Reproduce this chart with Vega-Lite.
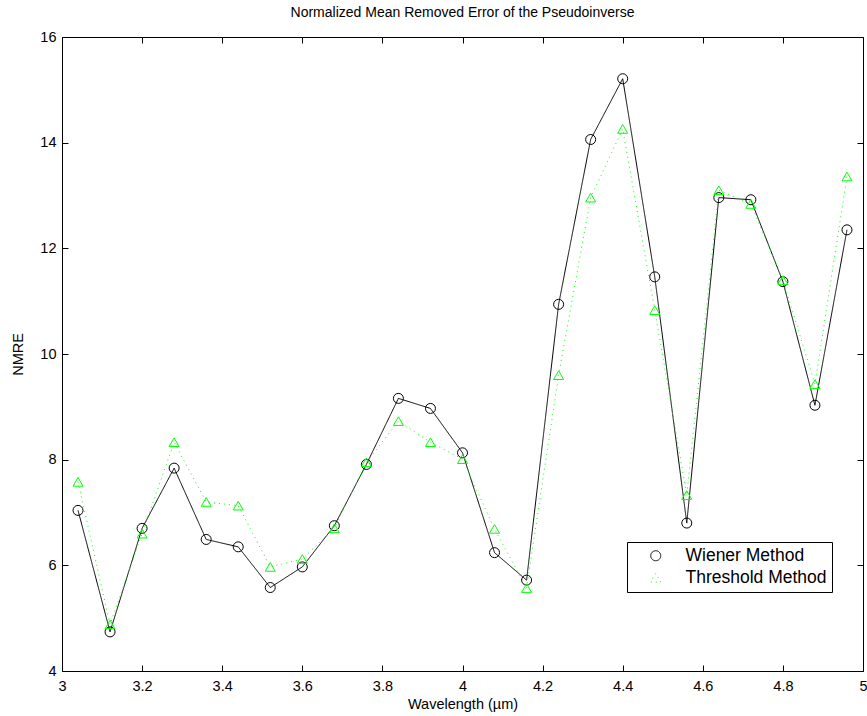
{
  "$schema": "https://vega.github.io/schema/vega-lite/v6.json",
  "width": 801,
  "height": 634,
  "autosize": {"type": "none"},
  "padding": {"left": 62, "top": 37, "right": 4, "bottom": 45},
  "background": "white",
  "config": {
    "font": "Liberation Sans",
    "view": {"stroke": null},
    "axis": {"grid": false, "domainColor": "black", "tickColor": "black", "labelColor": "black", "titleColor": "black", "labelFont": "Liberation Sans", "titleFont": "Liberation Sans", "titleFontWeight": "normal", "labelFontSize": 14.5, "titleFontSize": 14.5, "tickSize": -6, "domainWidth": 1, "tickWidth": 1}
  },
  "title": {"text": "Normalized Mean Removed Error of the Pseudoinverse", "font": "Liberation Sans", "fontSize": 14, "fontWeight": "normal", "color": "black", "offset": 9},
  "data": {"values": [
    {"wl": 3.04, "method": "Wiener Method", "nmre": 7.04},
    {"wl": 3.12, "method": "Wiener Method", "nmre": 4.74},
    {"wl": 3.20, "method": "Wiener Method", "nmre": 6.70},
    {"wl": 3.28, "method": "Wiener Method", "nmre": 7.84},
    {"wl": 3.36, "method": "Wiener Method", "nmre": 6.49},
    {"wl": 3.44, "method": "Wiener Method", "nmre": 6.35},
    {"wl": 3.52, "method": "Wiener Method", "nmre": 5.58},
    {"wl": 3.60, "method": "Wiener Method", "nmre": 5.97},
    {"wl": 3.68, "method": "Wiener Method", "nmre": 6.75},
    {"wl": 3.76, "method": "Wiener Method", "nmre": 7.91},
    {"wl": 3.84, "method": "Wiener Method", "nmre": 9.16},
    {"wl": 3.92, "method": "Wiener Method", "nmre": 8.97},
    {"wl": 4.00, "method": "Wiener Method", "nmre": 8.13},
    {"wl": 4.08, "method": "Wiener Method", "nmre": 6.24},
    {"wl": 4.16, "method": "Wiener Method", "nmre": 5.72},
    {"wl": 4.24, "method": "Wiener Method", "nmre": 10.94},
    {"wl": 4.32, "method": "Wiener Method", "nmre": 14.06},
    {"wl": 4.40, "method": "Wiener Method", "nmre": 15.21},
    {"wl": 4.48, "method": "Wiener Method", "nmre": 11.46},
    {"wl": 4.56, "method": "Wiener Method", "nmre": 6.80},
    {"wl": 4.64, "method": "Wiener Method", "nmre": 12.96},
    {"wl": 4.72, "method": "Wiener Method", "nmre": 12.92},
    {"wl": 4.80, "method": "Wiener Method", "nmre": 11.37},
    {"wl": 4.88, "method": "Wiener Method", "nmre": 9.03},
    {"wl": 4.96, "method": "Wiener Method", "nmre": 12.35},
    {"wl": 3.04, "method": "Threshold Method", "nmre": 7.58},
    {"wl": 3.12, "method": "Threshold Method", "nmre": 4.88},
    {"wl": 3.20, "method": "Threshold Method", "nmre": 6.60},
    {"wl": 3.28, "method": "Threshold Method", "nmre": 8.33},
    {"wl": 3.36, "method": "Threshold Method", "nmre": 7.20},
    {"wl": 3.44, "method": "Threshold Method", "nmre": 7.13},
    {"wl": 3.52, "method": "Threshold Method", "nmre": 5.97},
    {"wl": 3.60, "method": "Threshold Method", "nmre": 6.12},
    {"wl": 3.68, "method": "Threshold Method", "nmre": 6.70},
    {"wl": 3.76, "method": "Threshold Method", "nmre": 7.95},
    {"wl": 3.84, "method": "Threshold Method", "nmre": 8.73},
    {"wl": 3.92, "method": "Threshold Method", "nmre": 8.33},
    {"wl": 4.00, "method": "Threshold Method", "nmre": 8.01},
    {"wl": 4.08, "method": "Threshold Method", "nmre": 6.69},
    {"wl": 4.16, "method": "Threshold Method", "nmre": 5.57},
    {"wl": 4.24, "method": "Threshold Method", "nmre": 9.60},
    {"wl": 4.32, "method": "Threshold Method", "nmre": 12.96},
    {"wl": 4.40, "method": "Threshold Method", "nmre": 14.26},
    {"wl": 4.48, "method": "Threshold Method", "nmre": 10.83},
    {"wl": 4.56, "method": "Threshold Method", "nmre": 7.33},
    {"wl": 4.64, "method": "Threshold Method", "nmre": 13.10},
    {"wl": 4.72, "method": "Threshold Method", "nmre": 12.84},
    {"wl": 4.80, "method": "Threshold Method", "nmre": 11.40},
    {"wl": 4.88, "method": "Threshold Method", "nmre": 9.43},
    {"wl": 4.96, "method": "Threshold Method", "nmre": 13.36}
  ]},
  "layer": [
    {
      "mark": {"type": "line", "strokeWidth": 1},
      "encoding": {
        "x": {"field": "wl", "type": "quantitative", "scale": {"domain": [3, 5], "nice": false, "zero": false}, "axis": {"orient": "bottom", "title": "Wavelength (µm)", "values": [3, 3.2, 3.4, 3.6, 3.8, 4, 4.2, 4.4, 4.6, 4.8, 5], "format": "~g", "labelPadding": 14, "titlePadding": 5, "labelFlush": false}},
        "y": {"field": "nmre", "type": "quantitative", "scale": {"domain": [4, 16], "nice": false, "zero": false}, "axis": {"orient": "left", "title": "NMRE", "values": [4, 6, 8, 10, 12, 14, 16], "labelPadding": 12, "titlePadding": 14, "labelFlush": false}},
        "color": {"field": "method", "type": "nominal", "scale": {"domain": ["Wiener Method", "Threshold Method"], "range": ["black", "#00ff00"]},
          "legend": {"orient": "none", "legendX": 565, "legendY": 505, "title": null, "strokeColor": "black", "fillColor": "white", "padding": 5, "labelFont": "Liberation Sans", "labelFontSize": 17.5, "labelColor": "black", "labelLimit": 400, "labelOffset": 21, "symbolOffset": 15, "symbolSize": 100, "symbolStrokeWidth": 1, "rowPadding": 3}},
        "strokeDash": {"field": "method", "type": "nominal", "scale": {"domain": ["Wiener Method", "Threshold Method"], "range": [[1, 0], [1, 4]]}, "legend": null}
      }
    },
    {
      "mark": {"type": "point", "filled": false, "strokeWidth": 1, "size": 100, "opacity": 1},
      "encoding": {
        "x": {"field": "wl", "type": "quantitative", "axis": {"orient": "top", "title": null, "labels": false, "values": [3, 3.2, 3.4, 3.6, 3.8, 4, 4.2, 4.4, 4.6, 4.8, 5]}},
        "y": {"field": "nmre", "type": "quantitative", "axis": {"orient": "right", "title": null, "labels": false, "values": [4, 6, 8, 10, 12, 14, 16]}},
        "color": {"field": "method", "type": "nominal", "scale": {"domain": ["Wiener Method", "Threshold Method"], "range": ["black", "#00ff00"]},
          "legend": {"orient": "none", "legendX": 565, "legendY": 505, "title": null, "strokeColor": "black", "fillColor": "white", "padding": 5, "labelFont": "Liberation Sans", "labelFontSize": 17.5, "labelColor": "black", "labelLimit": 400, "labelOffset": 21, "symbolOffset": 15, "symbolSize": 100, "symbolStrokeWidth": 1, "rowPadding": 3}},
        "shape": {"field": "method", "type": "nominal", "scale": {"domain": ["Wiener Method", "Threshold Method"], "range": ["circle", "triangle-up"]}, "legend": null}
      }
    }
  ],
  "resolve": {"axis": {"x": "independent", "y": "independent"}}
}
